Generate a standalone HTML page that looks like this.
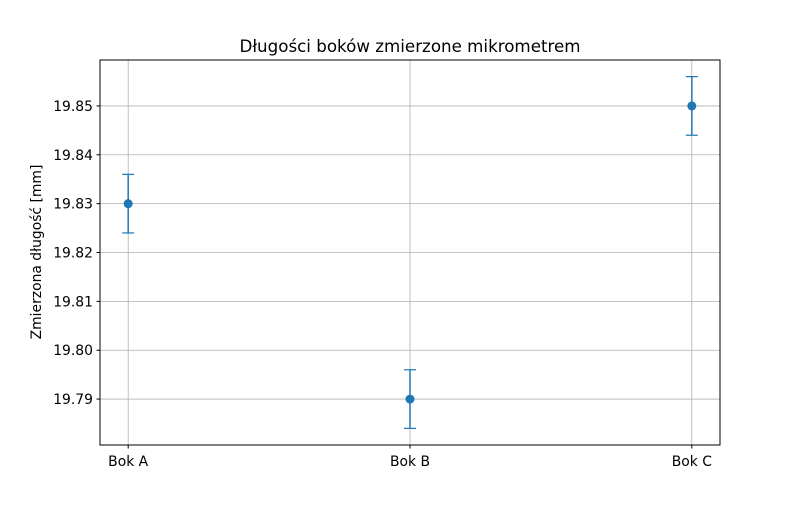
<!DOCTYPE html>
<html><head><meta charset="utf-8"><style>
body{margin:0;background:#fff;}
svg text{font-family:"DejaVu Sans","Liberation Sans",sans-serif;}
</style></head><body>
<svg id="chart" width="800" height="500" xmlns="http://www.w3.org/2000/svg">
<rect width="800" height="500" fill="#fff"/>
<text x="410" y="52" text-anchor="middle" font-size="16.7">Długości boków zmierzone mikrometrem</text>
<text transform="translate(41,252) rotate(-90)" text-anchor="middle" font-size="13.9">Zmierzona długość [mm]</text>
<g id="grid"></g><g id="ticks"></g><g id="marks"></g>
<rect x="100" y="60" width="620" height="385" fill="none" stroke="#000" stroke-width="1"/>
</svg>
<script>
const categories = ["Bok A","Bok B","Bok C"];
const values = [19.83, 19.79, 19.85];
const errors = [0.006, 0.006, 0.006];
const yTicks = [19.79, 19.80, 19.81, 19.82, 19.83, 19.84, 19.85];

const L=100,R=720,T=60,B=445;
const xMin=-0.1,xMax=categories.length-1+0.1;
const yMin=19.7806,yMax=19.8594;
const x=i=>L+(i-xMin)/(xMax-xMin)*(R-L);
const y=v=>B-(v-yMin)/(yMax-yMin)*(B-T);
const NS="http://www.w3.org/2000/svg";
function mk(tag,attrs,parent){const e=document.createElementNS(NS,tag);for(const k in attrs)e.setAttribute(k,attrs[k]);document.getElementById(parent).appendChild(e);return e;}

yTicks.forEach(v=>{
  const yy=y(v);
  let g=mk('line',{x1:L,x2:R,y1:yy,y2:yy,stroke:'#b0b0b0','stroke-width':0.8},'grid');
  
  
  let t=mk('line',{x1:L-3.5,x2:L,y1:yy,y2:yy,stroke:'#000'},'ticks');
  
  
  let lb=mk('text',{x:L-7,y:yy+5,'text-anchor':'end','font-size':13.9},'ticks');
  lb.textContent=v.toFixed(2);
  
  
});
categories.forEach((c,i)=>{
  const xx=x(i);
  let g=mk('line',{x1:xx,x2:xx,y1:T,y2:B,stroke:'#b0b0b0','stroke-width':0.8},'grid');
  
  
  let t=mk('line',{x1:xx,x2:xx,y1:B,y2:B+3.5,stroke:'#000'},'ticks');
  
  
  let lb=mk('text',{x:xx,y:B+21,'text-anchor':'middle','font-size':13.9},'ticks');
  lb.textContent=c;
  
  
  const col='#1f77b4',y1=y(values[i]+errors[i]),y2=y(values[i]-errors[i]);
  let eb=mk('line',{x1:xx,x2:xx,y1:y1,y2:y2,stroke:col,'stroke-width':1.5},'marks');
  
  
  [y1,y2].forEach(cy=>{
    let cap=mk('line',{x1:xx-6,x2:xx+6,y1:cy,y2:cy,stroke:col,'stroke-width':1.2},'marks');
    
    
  });
  let p=mk('circle',{cx:xx,cy:y(values[i]),r:4.5,fill:col},'marks');
  
  
});
</script>
</body></html>
